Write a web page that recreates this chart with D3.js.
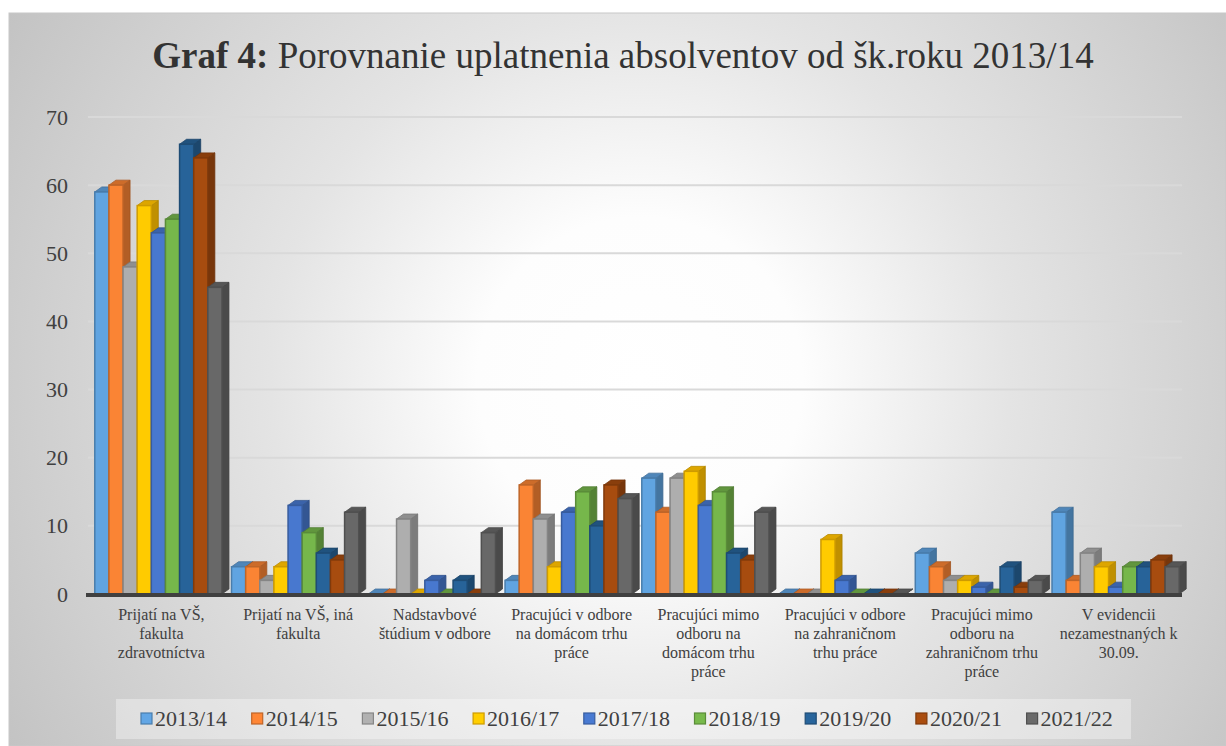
<!DOCTYPE html>
<html>
<head>
<meta charset="utf-8">
<script src="https://cdn.jsdelivr.net/npm/d3@7"></script>
<style>
  body { margin: 0; background: #fff; }
  svg { display: block; }
</style>
</head>
<body>
<div class="chart"></div>
<script>
// categories (x label lines)
var categories = [
  ["Prijatí na VŠ,", "fakulta", "zdravotníctva"],
  ["Prijatí na VŠ, iná", "fakulta"],
  ["Nadstavbové", "štúdium v odbore"],
  ["Pracujúci v odbore", "na domácom trhu", "práce"],
  ["Pracujúci mimo", "odboru na", "domácom trhu", "práce"],
  ["Pracujúci v odbore", "na zahraničnom", "trhu práce"],
  ["Pracujúci mimo", "odboru na", "zahraničnom trhu", "práce"],
  ["V evidencii", "nezamestnaných k", "30.09."]
];
var years = ["2013/14", "2014/15", "2015/16", "2016/17", "2017/18", "2018/19", "2019/20", "2020/21", "2021/22"];
var colors = ["#5B9BD5", "#ED7D31", "#A5A5A5", "#FFC000", "#4472C4", "#70AD47", "#255E91", "#9E480E", "#636363"];

// one array per school year, values per category
var y2013 = [59, 4, 0, 2, 17, 0, 6, 12];
var y2014 = [60, 4, 0, 16, 12, 0, 4, 2];
var y2015 = [48, 2, 11, 11, 17, 0, 2, 6];
var y2016 = [57, 4, 0, 4, 18, 8, 2, 4];
var y2017 = [53, 13, 2, 12, 13, 2, 1, 1];
var y2018 = [55, 9, 0, 15, 15, 0, 0, 4];
var y2019 = [66, 6, 2, 10, 6, 0, 4, 4];
var y2020 = [64, 5, 0, 16, 5, 0, 1, 5];
var y2021 = [45, 12, 9, 14, 12, 0, 2, 4];
var series = [y2013, y2014, y2015, y2016, y2017, y2018, y2019, y2020, y2021];

var yTicks = [0, 10, 20, 30, 40, 50, 60, 70];

var FONT = "'Liberation Serif', 'Times New Roman', serif";
var W = 1226, H = 746;
var svg = d3.select(".chart").append("svg")
    .attr("width", W)
    .attr("height", H)
    .style("font-family", FONT);

var defs = svg.append("defs");
var grad = defs.append("radialGradient")
    .attr("id", "bg")
    .attr("gradientUnits", "userSpaceOnUse")
    .attr("cx", 640).attr("cy", 380).attr("r", 740);
grad.append("stop").attr("offset", "0").attr("stop-color", "#ffffff");
grad.append("stop").attr("offset", "0.22").attr("stop-color", "#fdfdfd");
grad.append("stop").attr("offset", "0.5").attr("stop-color", "#e4e4e4");
grad.append("stop").attr("offset", "0.8").attr("stop-color", "#d0d0d0");
grad.append("stop").attr("offset", "1").attr("stop-color", "#c2c2c2");

// chart frame
svg.append("rect")
    .attr("x", 9).attr("y", 13)
    .attr("width", W - 9).attr("height", H - 13)
    .attr("fill", "url(#bg)")
    .attr("stroke", "#c8c8c8")
    .attr("stroke-width", 1);

// title
var title = svg.append("text")
    .attr("x", 623)
    .attr("y", 68)
    .attr("text-anchor", "middle")
    .style("font-family", FONT)
    .style("font-size", "37px")
    .style("fill", "#333");
title.append("tspan").style("font-weight", "bold").text("Graf 4:");
title.append("tspan").text(" Porovnanie uplatnenia absolventov od šk.roku 2013/14");

var x0 = d3.scaleBand()
    .domain(d3.range(categories.length))
    .range([90, 1184])
    .paddingInner(0.07)
    .paddingOuter(0.035);

var x1 = d3.scaleBand()
    .domain(d3.range(years.length))
    .range([0, x0.bandwidth()]);

var y = d3.scaleLinear()
    .domain([0, 70])
    .range([594, 117]);

// gridlines
svg.append("g")
  .selectAll("line")
  .data(yTicks.slice(1))
  .enter()
  .append("line")
    .attr("x1", 88).attr("x2", 1182)
    .attr("y1", function(d) { return y(d); })
    .attr("y2", function(d) { return y(d); })
    .attr("stroke", "#d9d9d9")
    .attr("stroke-width", 2);

// y axis labels
var yAxis = svg.append("g")
    .attr("transform", "translate(68,0)")
    .call(d3.axisLeft(y).tickValues(yTicks).tickSize(0).tickPadding(0));
yAxis.attr("font-family", null).attr("font-size", null);
yAxis.select(".domain").remove();
yAxis.selectAll("text")
    .style("font-size", "22px")
    .style("font-family", FONT)
    .attr("fill", "#404040");

// bars, 3d look
var dx = 7, dy = -5;
var bw = x1.bandwidth();
var base = y(0);
var bars = svg.append("g");

categories.forEach(function(c, ci) {
  series.forEach(function(vals, si) {
    var col = d3.color(colors[si]);
    var xx = x0(ci) + x1(si);
    var top = y(vals[ci]);
    var g = bars.append("g");
    // side
    g.append("polygon")
      .attr("points", [[xx + bw, top], [xx + bw + dx, top + dy], [xx + bw + dx, base + dy], [xx + bw, base]].join(" "))
      .attr("fill", col.darker(0.8))
      .attr("stroke", col.darker(1.1))
      .attr("stroke-width", 0.8);
    // top
    g.append("polygon")
      .attr("points", [[xx, top], [xx + dx, top + dy], [xx + bw + dx, top + dy], [xx + bw, top]].join(" "))
      .attr("fill", col.darker(0.4))
      .attr("stroke", col.darker(0.9))
      .attr("stroke-width", 0.8);
    // front
    if (vals[ci] > 0) {
      g.append("rect")
        .attr("x", xx)
        .attr("y", top)
        .attr("width", bw)
        .attr("height", base - top)
        .attr("fill", col.brighter(0.15))
        .attr("stroke", col.darker(0.6))
        .attr("stroke-width", 1.5);
    }
  });
});

// floor line
svg.append("line")
    .attr("x1", 86).attr("x2", 1182)
    .attr("y1", base + 1).attr("y2", base + 1)
    .attr("stroke", "#404040")
    .attr("stroke-width", 4);

// x labels
var xl = svg.append("g");
categories.forEach(function(lines, ci) {
  var cx = x0(ci) + x0.bandwidth() / 2 + 3;
  var t = xl.append("text")
    .attr("x", cx)
    .attr("y", 620)
    .attr("text-anchor", "middle")
    .style("font-family", FONT)
    .style("font-size", "16px")
    .style("fill", "#404040");
  lines.forEach(function(l, li) {
    t.append("tspan")
      .attr("x", cx)
      .attr("dy", li === 0 ? 0 : 19)
      .text(l);
  });
});

// legend
svg.append("rect")
    .attr("x", 116).attr("y", 699)
    .attr("width", 1015).attr("height", 40)
    .attr("fill", "#ffffff")
    .attr("fill-opacity", 0.35);

var lg = svg.append("g");
years.forEach(function(yr, i) {
  var lx = 141 + i * 110.7;
  var c = d3.color(colors[i]);
  lg.append("rect")
    .attr("x", lx).attr("y", 713)
    .attr("width", 11).attr("height", 11)
    .attr("fill", c.brighter(0.2))
    .attr("stroke", c.darker(0.6))
    .attr("stroke-width", 1.2);
  lg.append("text")
    .attr("x", lx + 14)
    .attr("y", 726)
    .style("font-family", FONT)
    .style("font-size", "22px")
    .style("fill", "#404040")
    .text(yr);
});
</script>
</body>
</html>
